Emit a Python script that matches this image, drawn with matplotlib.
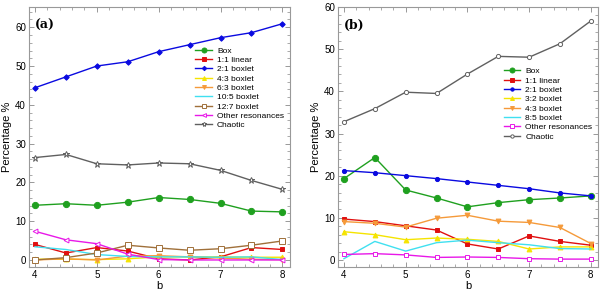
import matplotlib
matplotlib.use('Agg')
import matplotlib.pyplot as plt
from matplotlib.ticker import AutoMinorLocator

plt.rcParams['font.family'] = ['Liberation Sans', 'DejaVu Sans']

b = [4, 4.5, 5, 5.5, 6, 6.5, 7, 7.5, 8]

# panel (a)
a_box = [14.1, 14.5, 14.1, 14.9, 16.1, 15.6, 14.6, 12.6, 12.4]
a_lin11 = [4.0, 1.8, 3.2, 2.3, 0.3, 0.0, 0.8, 3.2, 2.7]
a_box21 = [44.4, 47.2, 50.0, 51.1, 53.7, 55.5, 57.3, 58.6, 60.9]
a_box43 = [0.2, 0.2, 0.1, 0.3, 0.8, 0.8, 0.8, 0.7, 0.7]
a_box63 = [0.0, 0.3, 0.0, 1.0, 1.1, 0.8, 0.5, 0.2, 0.1]
a_box105 = [3.4, 2.7, 1.4, 0.9, 0.8, 0.8, 0.7, 0.8, 0.1]
a_box127 = [0.0, 0.6, 1.8, 3.8, 3.1, 2.5, 2.9, 3.8, 4.9]
a_other = [7.4, 5.2, 4.2, 1.5, 0.1, 0.0, 0.0, 0.0, 0.0]
a_chaotic = [26.4, 27.2, 24.8, 24.5, 25.0, 24.8, 23.1, 20.5, 18.2]

# panel (b)
b_box = [19.3, 24.3, 16.6, 14.7, 12.6, 13.6, 14.3, 14.7, 15.2]
b_lin11 = [9.7, 9.1, 8.1, 7.1, 3.8, 2.6, 5.7, 4.4, 3.5]
b_box21 = [21.2, 20.7, 20.0, 19.3, 18.5, 17.7, 16.9, 15.9, 15.2]
b_box32 = [6.7, 6.0, 4.8, 5.2, 4.9, 4.4, 2.6, 3.1, 3.1]
b_box43 = [9.1, 8.7, 7.8, 9.9, 10.6, 9.2, 8.9, 7.7, 3.9]
b_box85 = [0.3, 4.4, 2.1, 4.1, 4.7, 4.1, 3.6, 2.7, 2.6]
b_other = [1.3, 1.5, 1.2, 0.6, 0.7, 0.6, 0.3, 0.2, 0.2]
b_chaotic = [32.8, 35.9, 39.8, 39.5, 44.1, 48.3, 48.1, 51.3, 56.7]

GREEN = '#1fa01f'
RED = '#e01010'
BLUE = '#0a0ae0'
YELLOW = '#f5e400'
ORANGE = '#f59a3a'
CYAN = '#40e0f0'
BROWN = '#a0703a'
MAGENTA = '#e818e8'
GREY = '#606060'

series_a = [
    (a_box, 'Box', GREEN, 'o', True, 4.5),
    (a_lin11, '1:1 linear', RED, 's', True, 3.5),
    (a_box21, '2:1 boxlet', BLUE, 'D', True, 2.8),
    (a_box43, '4:3 boxlet', YELLOW, '^', True, 3.5),
    (a_box63, '6:3 boxlet', ORANGE, 'v', True, 3.5),
    (a_box105, '10:5 boxlet', CYAN, None, True, 3),
    (a_box127, '12:7 boxlet', BROWN, 's', False, 4),
    (a_other, 'Other resonances', MAGENTA, '<', False, 3.5),
    (a_chaotic, 'Chaotic', GREY, '*', False, 4.5),
]

series_b = [
    (b_box, 'Box', GREEN, 'o', True, 4.5),
    (b_lin11, '1:1 linear', RED, 's', True, 3.5),
    (b_box21, '2:1 boxlet', BLUE, 'o', True, 3),
    (b_box32, '3:2 boxlet', YELLOW, '^', True, 3.5),
    (b_box43, '4:3 boxlet', ORANGE, 'v', True, 3.5),
    (b_box85, '8:5 boxlet', CYAN, None, True, 3),
    (b_other, 'Other resonances', MAGENTA, 's', False, 3.5),
    (b_chaotic, 'Chaotic', GREY, 'o', False, 3),
]


def draw_panel(ax, series, ylim, tag, leg_anchor):
    for vals, name, col, mk, filled, ms in series:
        ax.plot(b, vals, color=col, lw=1.0, marker=mk, ms=ms,
                mfc=col if filled else 'white', mec=col, mew=0.7, label=name)
    ax.set_xlim(3.9, 8.12)
    ax.set_ylim(*ylim)
    ax.set_xticks([4, 5, 6, 7, 8])
    ax.xaxis.set_minor_locator(AutoMinorLocator(5))
    ax.yaxis.set_minor_locator(AutoMinorLocator(5))
    ax.tick_params(which='both', direction='in', top=True, right=True,
                   color='#888888', labelsize=7, pad=2)
    ax.tick_params(which='major', length=3.5, width=0.6)
    ax.tick_params(which='minor', length=2, width=0.5)
    for sp in ax.spines.values():
        sp.set_color('#999999')
        sp.set_linewidth(0.8)
    ax.set_xlabel('b', fontsize=8, labelpad=1)
    ax.set_ylabel('Percentage %', fontsize=8, labelpad=2)
    ax.text(0.022, 0.93, tag, transform=ax.transAxes, family='DejaVu Serif',
            fontsize=9, fontweight='bold', va='center')
    leg = ax.legend(loc='upper right', bbox_to_anchor=leg_anchor, fontsize=6,
                    frameon=False, handlelength=2.0, handletextpad=0.6,
                    labelspacing=0.18, borderpad=0.2, markerscale=0.8)
    return leg


fig = plt.figure(figsize=(6, 2.94), dpi=100)
ax1 = fig.add_axes([0.048, 0.092, 0.435, 0.884])
ax2 = fig.add_axes([0.563, 0.092, 0.434, 0.884])

draw_panel(ax1, series_a, (-1.8, 65.2), '(a)', (1.0, 0.87))
draw_panel(ax2, series_b, (-1.66, 60), '(b)', (1.0, 0.79))

fig.savefig('out.png', dpi=100)
